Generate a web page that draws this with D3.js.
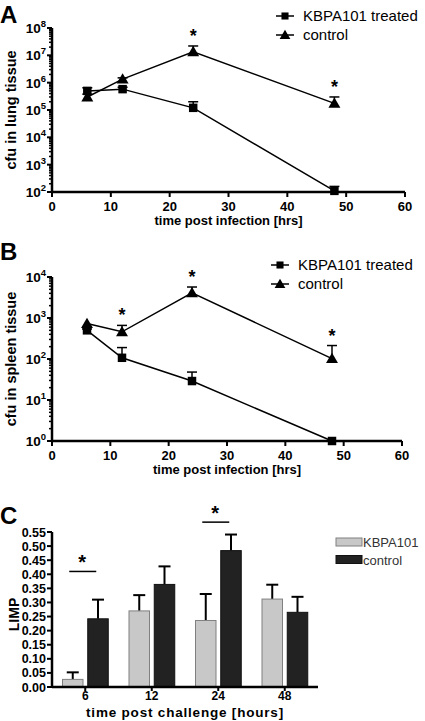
<!DOCTYPE html>
<html><head><meta charset="utf-8">
<script src="https://cdn.jsdelivr.net/npm/d3@7"></script>
<style>
body{margin:0;background:#fff;}
svg{display:block;font-family:"Liberation Sans",Arial,sans-serif;}
</style></head>
<body>
<svg id="c" width="425" height="721"></svg>
<script>
// ---------- DATA ----------
const timesA = [6, 12, 24, 48];
const lungTreated = [5.0e5, 5.8e5, 1.2e5, 110];
const lungTreatedErr = [6.5e5, 6.8e5, 2.0e5, 160];
const lungControl = [3.0e5, 1.35e6, 1.35e7, 1.75e5];
const lungControlErr = [3.8e5, 1.5e6, 2.2e7, 3.0e5];
const lungStars = [24, 48];

const spleenTreated = [500, 107, 29, 1];
const spleenTreatedErr = [540, 190, 48, 1.05];
const spleenControl = [730, 460, 4100, 102];
const spleenControlErr = [760, 660, 5700, 213];
const spleenStars = [12, 24, 48];

const xTicks = [0, 10, 20, 30, 40, 50, 60];
const seriesNames = ["KBPA101 treated", "control"];

const limpCats = ["6", "12", "24", "48"];
const limpKBPA = [0.027, 0.27, 0.236, 0.312];
const limpKBPAErr = [0.052, 0.326, 0.33, 0.363];
const limpControl = [0.242, 0.364, 0.484, 0.265];
const limpControlErr = [0.31, 0.428, 0.541, 0.32];
const limpYTicks = [0, 0.05, 0.1, 0.15, 0.2, 0.25, 0.3, 0.35, 0.4, 0.45, 0.5, 0.55];
const limpSig = [{cat: "6", y: 0.41}, {cat: "24", y: 0.585}];
const limpLegend = ["KBPA101", "control"];

// ---------- DRAW ----------
const svg = d3.select("#c");

function linePanel(o) {
  const g = svg.append("g");
  const x = d3.scaleLinear().domain([0, 60]).range([o.x0, o.x1]);
  const y = d3.scaleLog().domain(o.ydom).range([o.y0, o.y1]);
  g.append("text").attr("x", 0).attr("y", o.letterY).attr("font-size", 24).attr("font-weight", "bold").text(o.letter);
  const minors = [];
  for (let e = Math.log10(o.ydom[0]); e < Math.log10(o.ydom[1]); e++) {
    for (let k = 2; k <= 9; k++) minors.push(k * Math.pow(10, e));
  }
  g.selectAll(".mn").data(minors).join("line")
    .attr("x1", o.x0 - 3).attr("x2", o.x0).attr("y1", d => y(d)).attr("y2", d => y(d))
    .attr("stroke", "#000").attr("stroke-width", 1.5);
  const majors = [];
  for (let e = Math.log10(o.ydom[0]); e <= Math.log10(o.ydom[1]); e++) majors.push(e);
  g.selectAll(".mj").data(majors).join("line")
    .attr("x1", o.x0 - 5).attr("x2", o.x0).attr("y1", d => y(Math.pow(10, d))).attr("y2", d => y(Math.pow(10, d)))
    .attr("stroke", "#000").attr("stroke-width", 2);
  const lab = g.selectAll(".ml").data(majors).join("text")
    .attr("x", o.x0 - 6).attr("y", d => y(Math.pow(10, d)) + 5)
    .attr("text-anchor", "end").attr("font-size", 13.5).attr("font-weight", "bold");
  lab.append("tspan").text("10");
  lab.append("tspan").attr("font-size", 9.5).attr("dy", -6).text(d => String(d));
  g.append("line").attr("x1", o.x0).attr("x2", o.x1).attr("y1", o.y0).attr("y2", o.y0).attr("stroke", "#000").attr("stroke-width", 2.5);
  g.append("line").attr("x1", o.x0).attr("x2", o.x0).attr("y1", o.y0).attr("y2", o.y1).attr("stroke", "#000").attr("stroke-width", 2.5);
  g.selectAll(".xt").data(xTicks).join("line")
    .attr("x1", d => x(d)).attr("x2", d => x(d)).attr("y1", o.y0).attr("y2", o.y0 + 5)
    .attr("stroke", "#000").attr("stroke-width", 2);
  g.selectAll(".xl").data(xTicks).join("text")
    .attr("x", d => x(d)).attr("y", o.y0 + 19).attr("text-anchor", "middle")
    .attr("font-size", 13).attr("font-weight", "bold").text(d => d);
  g.append("text").attr("x", (o.x0 + o.x1) / 2).attr("y", o.y0 + 33).attr("text-anchor", "middle")
    .attr("font-size", 13).attr("font-weight", "bold").text("time post infection [hrs]");
  g.append("text").attr("transform", `translate(${o.ylabX},${(o.y0 + o.y1) / 2}) rotate(-90)`)
    .attr("text-anchor", "middle").attr("font-size", 14.5).attr("font-weight", "bold").text(o.ylab);

  const line = d3.line().x(d => x(d[0])).y(d => y(d[1]));
  const series = [
    {vals: o.treated, err: o.treatedErr, shape: d3.symbolSquare, size: 72},
    {vals: o.control, err: o.controlErr, shape: d3.symbolTriangle, size: 62}
  ];
  series.forEach(s => {
    const pts = timesA.map((t, i) => [t, s.vals[i]]);
    g.append("path").attr("d", line(pts)).attr("fill", "none").attr("stroke", "#000").attr("stroke-width", 1.5);
    timesA.forEach((t, i) => {
      const top = y(s.err[i]), yv = y(s.vals[i]);
      if (yv - top > 1) {
        g.append("line").attr("x1", x(t)).attr("x2", x(t)).attr("y1", yv).attr("y2", top).attr("stroke", "#000").attr("stroke-width", 1.5);
        g.append("line").attr("x1", x(t) - 5).attr("x2", x(t) + 5).attr("y1", top).attr("y2", top).attr("stroke", "#000").attr("stroke-width", 1.5);
      }
    });
    g.selectAll(null).data(pts).join("path")
      .attr("transform", d => `translate(${x(d[0])},${y(d[1]) + (s.shape === d3.symbolTriangle ? 1 : 0)})`)
      .attr("d", d3.symbol().type(s.shape).size(s.size)).attr("fill", "#000");
  });
  o.stars.forEach(t => {
    const i = timesA.indexOf(t);
    g.append("text").attr("x", x(t)).attr("y", y(o.controlErr[i]) - 4).attr("text-anchor", "middle")
      .attr("font-size", 18).attr("font-weight", "bold").text("*");
  });
  seriesNames.forEach((n, i) => {
    const ly = o.legY + i * 19;
    g.append("line").attr("x1", o.legX - 9).attr("x2", o.legX + 9).attr("y1", ly).attr("y2", ly).attr("stroke", "#000").attr("stroke-width", 1.5);
    g.append("path").attr("transform", `translate(${o.legX},${ly + (i ? 1 : 0)})`)
      .attr("d", d3.symbol().type(i ? d3.symbolTriangle : d3.symbolSquare).size(50)).attr("fill", "#000");
    g.append("text").attr("x", o.legX + 18).attr("y", ly + 5).attr("font-size", 15).text(n);
  });
}

linePanel({letter: "A", letterY: 23, x0: 52, x1: 405, y0: 192, y1: 28, ydom: [1e2, 1e8],
  treated: lungTreated, treatedErr: lungTreatedErr, control: lungControl, controlErr: lungControlErr,
  stars: lungStars, ylab: "cfu in lung tissue", ylabX: 16, legX: 285, legY: 16});
linePanel({letter: "B", letterY: 260, x0: 52, x1: 402, y0: 441, y1: 277, ydom: [1, 1e4],
  treated: spleenTreated, treatedErr: spleenTreatedErr, control: spleenControl, controlErr: spleenControlErr,
  stars: spleenStars, ylab: "cfu in spleen tissue", ylabX: 16, legX: 280, legY: 265});

// ---------- Panel C ----------
(function () {
  const g = svg.append("g");
  const x0 = 52, x1 = 318, y0 = 687, y1 = 532;
  const x = d3.scaleBand().domain(limpCats).range([x0, x1]);
  const y = d3.scaleLinear().domain([0, 0.55]).range([y0, y1]);
  const bw = 20.5;
  g.append("text").attr("x", 0).attr("y", 524).attr("font-size", 24).attr("font-weight", "bold").text("C");
  g.selectAll(".yt").data(limpYTicks).join("line")
    .attr("x1", x0 - 5).attr("x2", x0).attr("y1", d => y(d)).attr("y2", d => y(d)).attr("stroke", "#000").attr("stroke-width", 2);
  g.selectAll(".yl").data(limpYTicks).join("text")
    .attr("x", x0 - 6).attr("y", d => y(d) + 4.5).attr("text-anchor", "end")
    .attr("font-size", 12.5).attr("font-weight", "bold").text(d => d3.format(".2f")(d));
  const groups = [
    {vals: limpKBPA, err: limpKBPAErr, off: -12.5, fill: "#c8c8c8", stroke: "#808080"},
    {vals: limpControl, err: limpControlErr, off: 12.75, fill: "#222", stroke: "#111"}
  ];
  groups.forEach(s => {
    limpCats.forEach((c, i) => {
      const cx = x(c) + x.bandwidth() / 2 + s.off;
      g.append("line").attr("x1", cx).attr("x2", cx).attr("y1", y(s.vals[i])).attr("y2", y(s.err[i])).attr("stroke", "#000").attr("stroke-width", 2);
      g.append("line").attr("x1", cx - 6).attr("x2", cx + 6).attr("y1", y(s.err[i])).attr("y2", y(s.err[i])).attr("stroke", "#000").attr("stroke-width", 2);
      g.append("rect").attr("x", cx - bw / 2).attr("y", y(s.vals[i])).attr("width", bw).attr("height", y0 - y(s.vals[i]))
        .attr("fill", s.fill).attr("stroke", s.stroke).attr("stroke-width", 1);
    });
  });
  g.append("line").attr("x1", x0).attr("x2", x1).attr("y1", y0).attr("y2", y0).attr("stroke", "#000").attr("stroke-width", 2.5);
  g.append("line").attr("x1", x0).attr("x2", x0).attr("y1", y0).attr("y2", y1).attr("stroke", "#000").attr("stroke-width", 2.5);
  g.selectAll(".xt").data(limpCats).join("line")
    .attr("x1", d => x(d) + x.bandwidth() / 2).attr("x2", d => x(d) + x.bandwidth() / 2)
    .attr("y1", y0).attr("y2", y0 + 4).attr("stroke", "#000").attr("stroke-width", 2);
  g.selectAll(".xl").data(limpCats).join("text")
    .attr("x", d => x(d) + x.bandwidth() / 2).attr("y", y0 + 13).attr("text-anchor", "middle")
    .attr("font-size", 12).attr("font-weight", "bold").text(d => d);
  g.append("text").attr("x", 185).attr("y", 717).attr("text-anchor", "middle")
    .attr("font-size", 13.5).attr("font-weight", "bold").attr("letter-spacing", 0.8).text("time post challenge [hours]");
  g.append("text").attr("transform", `translate(19,${(y0 + y1) / 2 + 5}) rotate(-90)`)
    .attr("text-anchor", "middle").attr("font-size", 14).attr("font-weight", "bold").text("LIMP");
  limpSig.forEach(s => {
    const cx = x(s.cat) + x.bandwidth() / 2;
    g.append("line").attr("x1", cx - 16).attr("x2", cx + 11).attr("y1", y(s.y)).attr("y2", y(s.y)).attr("stroke", "#000").attr("stroke-width", 1.5);
    g.append("text").attr("x", cx - 3).attr("y", y(s.y) - 2).attr("text-anchor", "middle")
      .attr("font-size", 20).attr("font-weight", "bold").text("*");
  });
  limpLegend.forEach((n, i) => {
    const ly = 538 + i * 17.5;
    g.append("rect").attr("x", 336).attr("y", ly).attr("width", 26).attr("height", 8)
      .attr("fill", groups[i].fill).attr("stroke", groups[i].stroke).attr("stroke-width", 1);
    g.append("text").attr("x", 363).attr("y", ly + 9).attr("font-size", 13).attr("fill", "#333").text(n);
  });
})();
</script>
</body></html>
